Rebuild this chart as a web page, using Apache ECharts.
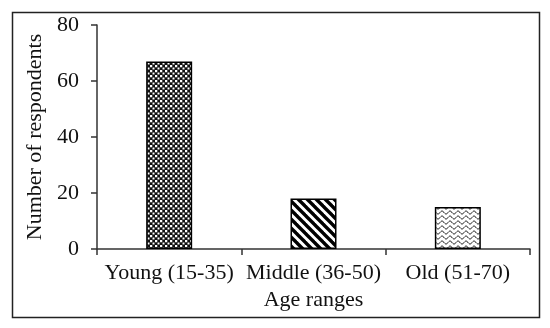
<!DOCTYPE html>
<html>
<head>
<meta charset="utf-8">
<script src="https://cdn.jsdelivr.net/npm/echarts@6/dist/echarts.min.js"></script>
<style>html,body{margin:0;padding:0;background:#fff}#c{width:550px;height:328px}</style>
</head>
<body>
<div id="c"></div>
<script>
const categories = ['Young (15-35)', 'Middle (36-50)', 'Old (51-70)'];
const respondents = [67, 18, 15];
const yTicks = [0, 20, 40, 60, 80];

function tile(w, h, draw) {
  const c = document.createElement('canvas');
  c.width = w; c.height = h;
  const g = c.getContext('2d');
  draw(g, w, h);
  return c;
}
const crossPat = tile(5, 5, (g) => {
  g.fillStyle = '#111'; g.fillRect(0, 0, 5, 5);
  g.fillStyle = '#fff';
  g.fillRect(0, 0, 2, 2);
  g.fillRect(2.5, 2.5, 2, 2);
  g.fillStyle = '#888';
  g.fillRect(2, 0, 0.5, 2);
  g.fillRect(0, 2.5, 2, 0.5);
});
const stripePat = tile(9, 9, (g, w, h) => {
  g.fillStyle = '#fff'; g.fillRect(0, 0, w, h);
  g.strokeStyle = '#000'; g.lineWidth = 3.4;
  for (let k = -1; k <= 1; k++) {
    g.beginPath();
    g.moveTo(k * w - 2, -2);
    g.lineTo(k * w + w + 2, h + 2);
    g.stroke();
  }
});
const wavePat = tile(8, 5, (g, w, h) => {
  g.fillStyle = '#fff'; g.fillRect(0, 0, w, h);
  g.strokeStyle = '#000'; g.lineWidth = 1;
  g.beginPath();
  g.moveTo(0, 2.5);
  g.bezierCurveTo(2, 0.5, 2, 0.5, 4, 2.5);
  g.bezierCurveTo(6, 4.5, 6, 4.5, 8, 2.5);
  g.stroke();
});
const patterns = [crossPat, stripePat, wavePat];

const chart = echarts.init(document.getElementById('c'), null, {renderer: 'canvas'});
const font = '"Liberation Serif", "Times New Roman", serif';
chart.setOption({
  animation: false,
  backgroundColor: '#fff',
  graphic: [{
    type: 'rect', left: 10, top: 10,
    shape: {x: 0, y: 0, width: 527, height: 305},
    style: {fill: 'none', stroke: '#222', lineWidth: 1.5}
  }],
  grid: {left: 97, right: 20, top: 25, bottom: 79, containLabel: false},
  xAxis: {
    type: 'category',
    data: categories,
    name: 'Age ranges',
    nameLocation: 'middle',
    nameGap: 40,
    nameTextStyle: {fontFamily: font, fontSize: 22, color: '#111'},
    axisLine: {lineStyle: {color: '#333', width: 1.5}},
    axisTick: {show: true, length: 6, lineStyle: {color: '#333', width: 1.5}},
    axisLabel: {fontFamily: font, fontSize: 22, color: '#111', margin: 13, interval: 0}
  },
  yAxis: {
    type: 'value',
    min: yTicks[0], max: yTicks[yTicks.length - 1], interval: 20,
    name: 'Number of respondents',
    nameLocation: 'middle',
    nameGap: 48,
    nameTextStyle: {fontFamily: font, fontSize: 22, color: '#111'},
    axisLine: {show: true, lineStyle: {color: '#333', width: 1.5}},
    axisTick: {show: true, length: 6, lineStyle: {color: '#333', width: 1.5}},
    axisLabel: {fontFamily: font, fontSize: 22, color: '#111', margin: 18},
    splitLine: {show: false}
  },
  series: [{
    type: 'bar',
    barWidth: 46,
    data: respondents.map((v, i) => ({
      value: v,
      itemStyle: {color: {image: patterns[i], repeat: 'repeat'}, borderColor: '#000', borderWidth: 1.5}
    }))
  }]
});
</script>
</body>
</html>
